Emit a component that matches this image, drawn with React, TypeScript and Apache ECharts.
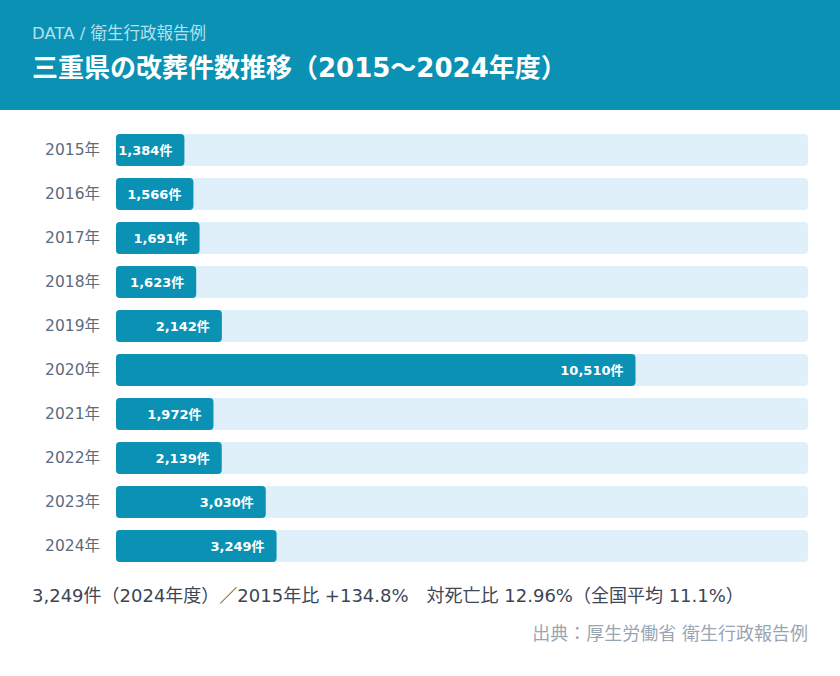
import React, { useEffect, useRef } from "react";
import * as echarts from "echarts";

const categories = ["2015年", "2016年", "2017年", "2018年", "2019年", "2020年", "2021年", "2022年", "2023年", "2024年"];
const values = [1384, 1566, 1691, 1623, 2142, 10510, 1972, 2139, 3030, 3249];
const kicker = "DATA / 衛生行政報告例";
const title = "三重県の改葬件数推移（2015～2024年度）";
const summary = "3,249件（2024年度）／2015年比 +134.8%　対死亡比 12.96%（全国平均 11.1%）";
const source = "出典：厚生労働省 衛生行政報告例";

const FONT = "'DejaVu Sans', 'Noto Sans CJK JP', sans-serif";

export default function App() {
  const ref = useRef<HTMLDivElement>(null);
  useEffect(() => {
    const chart = echarts.init(ref.current!, undefined, { renderer: "svg" });
    chart.setOption({
      animation: false,
      backgroundColor: "#ffffff",
      textStyle: { fontFamily: FONT },
      grid: { left: 116, right: 32, top: 128, bottom: 108, containLabel: false },
      xAxis: { type: "value", min: 0, max: 14000, show: false },
      yAxis: {
        type: "category",
        data: categories,
        inverse: true,
        axisLine: { show: false },
        axisTick: { show: false },
        axisLabel: { color: "#5d6b7b", fontSize: 15.5, margin: 16, fontFamily: FONT, padding: [0, 0, 3, 0] },
      },
      series: [
        {
          type: "bar",
          data: values,
          barWidth: 32,
          showBackground: true,
          backgroundStyle: { color: "#dff0fb", borderRadius: 4 },
          itemStyle: { color: "#0a91b4", borderRadius: 4 },
          label: {
            show: true,
            position: "insideRight",
            distance: 12,
            color: "#ffffff",
            fontWeight: "bold",
            fontSize: 13,
            fontFamily: FONT,
            formatter: (p: any) => p.value.toLocaleString("en-US") + "件",
          },
        },
      ],
      graphic: [
        { type: "rect", left: 0, top: 0, shape: { width: 840, height: 110 }, style: { fill: "#0a91b4" }, z: 0 },
        {
          type: "text",
          x: 32,
          y: 33,
          style: { text: kicker, fill: "#b3e0ee", fontSize: 16.5, fontFamily: FONT, textVerticalAlign: "middle" },
        },
        {
          type: "text",
          x: 32,
          y: 68,
          style: { text: title, fill: "#ffffff", fontSize: 26, fontWeight: "bold", fontFamily: FONT, textVerticalAlign: "middle" },
        },
        {
          type: "text",
          x: 32,
          y: 595,
          style: { text: summary, fill: "#3c4654", fontSize: 18, fontFamily: FONT, textVerticalAlign: "middle" },
        },
        {
          type: "text",
          x: 808,
          y: 633,
          style: { text: source, fill: "#9aa5b4", fontSize: 18, fontFamily: FONT, textAlign: "right", textVerticalAlign: "middle" },
        },
      ],
    });
    return () => chart.dispose();
  }, []);
  return (
    <div style={{ position: "fixed", left: 0, top: 0, width: 840, height: 676 }}>
      <div ref={ref} style={{ width: 840, height: 676 }} />
    </div>
  );
}
